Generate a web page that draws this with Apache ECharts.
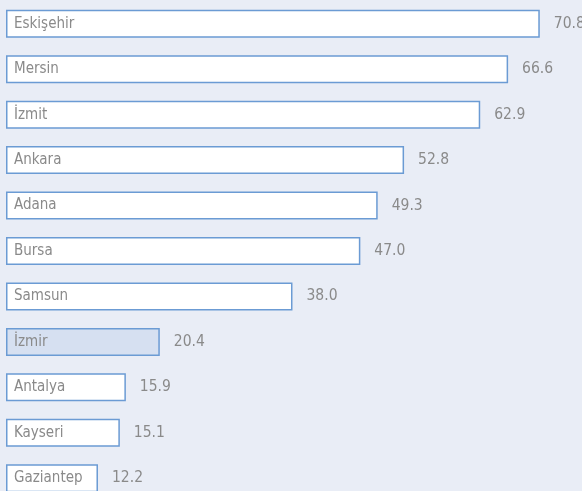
<!DOCTYPE html>
<html>
<head>
<meta charset="utf-8">
<script src="https://cdn.jsdelivr.net/npm/echarts@6/dist/echarts.min.js"></script>
<style>
html, body { margin: 0; padding: 0; background: #e9edf6; overflow: hidden; }
#main { width: 582px; height: 501px; }
</style>
</head>
<body>
<div id="main"></div>
<script>
// cities, top to bottom
var cities = ['Eskişehir', 'Mersin', 'İzmit', 'Ankara', 'Adana', 'Bursa', 'Samsun', 'İzmir', 'Antalya', 'Kayseri', 'Gaziantep'];
var values = [70.8, 66.6, 62.9, 52.8, 49.3, 47.0, 38.0, 20.4, 15.9, 15.1, 12.2];
var highlighted = 'İzmir';

var font = '"DejaVu Sans Condensed", sans-serif';

var myChart = echarts.init(document.getElementById('main'));

var data = [];
for (var i = 0; i < cities.length; i++) {
    var hl = cities[i] === highlighted;
    data.push({
        value: values[i],
        itemStyle: { color: hl ? '#d6e0f1' : '#ffffff' }
    });
}

var option = {
    backgroundColor: '#e9edf6',
    animation: false,
    grid: { left: 6, right: 0, top: 1, bottom: 0, containLabel: false },
    xAxis: {
        type: 'value',
        min: 0,
        max: 76.4,
        show: false
    },
    yAxis: {
        type: 'category',
        data: cities,
        inverse: true,
        show: false
    },
    series: [
        {
            type: 'bar',
            data: data,
            barWidth: 28,
            itemStyle: { borderColor: '#6b9bd4', borderWidth: 1.5 },
            label: {
                show: true,
                position: 'right',
                distance: 14,
                color: '#8a8a8a',
                fontFamily: font,
                fontSize: 15.5,
                padding: [3, 0, 0, 0],
                formatter: function (p) { return p.value.toFixed(1); }
            }
        },
        {
            // city names drawn inside the bars
            type: 'bar',
            data: values,
            barWidth: 28,
            barGap: '-100%',
            silent: true,
            itemStyle: { color: 'transparent' },
            label: {
                show: true,
                position: 'insideLeft',
                distance: 8,
                color: '#8a8a8a',
                fontFamily: font,
                fontSize: 15,
                padding: [3, 0, 0, 0],
                formatter: function (p) { return cities[p.dataIndex]; }
            }
        }
    ]
};

myChart.setOption(option);
</script>
</body>
</html>
